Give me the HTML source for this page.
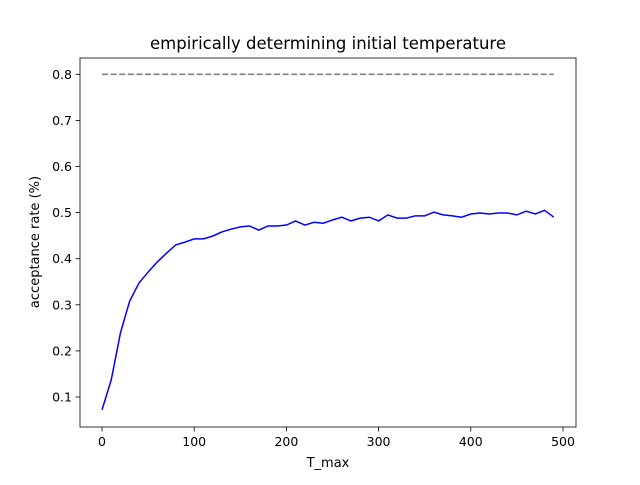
<!DOCTYPE html>
<html><head><meta charset="utf-8"><style>
body{margin:0;background:#fff;}
svg text{font-family:"DejaVu Sans","Liberation Sans",sans-serif;fill:#000;}
</style></head><body>
<svg id="chart" width="640" height="480">
<rect width="640" height="480" fill="#fff"/>
<text x="328" y="49" font-size="16.5" text-anchor="middle">empirically determining initial temperature</text>
<g id="plot"></g>
<rect x="80" y="58" width="496" height="369" fill="none" stroke="#000" stroke-width="0.8"/>
<text x="328" y="467" font-size="13" text-anchor="middle">T_max</text>
<text transform="translate(39,242) rotate(-90)" font-size="13" text-anchor="middle">acceptance rate (%)</text>
</svg>
<script>
const xs=[0,10,20,30,40,50,60,70,80,90,100,110,120,130,140,150,160,170,180,190,200,210,220,230,240,250,260,270,280,290,300,310,320,330,340,350,360,370,380,390,400,410,420,430,440,450,460,470,480,490];
const rates=[0.072,0.137,0.239,0.308,0.347,0.371,0.393,0.412,0.430,0.436,0.443,0.443,0.449,0.458,0.464,0.469,0.471,0.462,0.471,0.471,0.473,0.482,0.473,0.479,0.477,0.484,0.490,0.482,0.488,0.490,0.482,0.495,0.488,0.488,0.493,0.493,0.501,0.495,0.493,0.490,0.497,0.499,0.497,0.499,0.499,0.495,0.503,0.497,0.505,0.490];
const target=[0.8,0.8];
const targetX=[0,490];
const xTicks=[0,100,200,300,400,500];
const yTicks=[0.1,0.2,0.3,0.4,0.5,0.6,0.7,0.8];
const X=v=>102+v*0.922;
const Y=v=>397-(v-0.1)*461;
const ns="http://www.w3.org/2000/svg";
const g=document.getElementById('plot');
function mk(t,a){const e=document.createElementNS(ns,t);for(const k in a)e.setAttribute(k,a[k]);g.appendChild(e);return e;}
xTicks.forEach(t=>{
 const l=mk('line',{x1:X(t),x2:X(t),y1:427,y2:431.5,stroke:'#000','stroke-width':0.8});
 
 
 const tx=mk('text',{x:X(t),y:446,'font-size':12.5,'text-anchor':'middle'});tx.textContent=t;
 
 
});
yTicks.forEach(t=>{
 const l=mk('line',{x1:75.5,x2:80,y1:Y(t),y2:Y(t),stroke:'#000','stroke-width':0.8});
 
 
 const tx=mk('text',{x:72,y:Y(t)+4.5,'font-size':12.5,'text-anchor':'end'});tx.textContent=t.toFixed(1);
 
 
});
const d=mk('polyline',{points:targetX.map((x,i)=>X(x)+','+Y(target[i])).join(' '),fill:'none',stroke:'#7f7f7f','stroke-width':1.6,'stroke-dasharray':'6,2.6'});


const p=mk('polyline',{points:xs.map((x,i)=>X(x)+','+Y(rates[i])).join(' '),fill:'none',stroke:'#0000ff','stroke-width':1.5});


</script>
</body></html>
